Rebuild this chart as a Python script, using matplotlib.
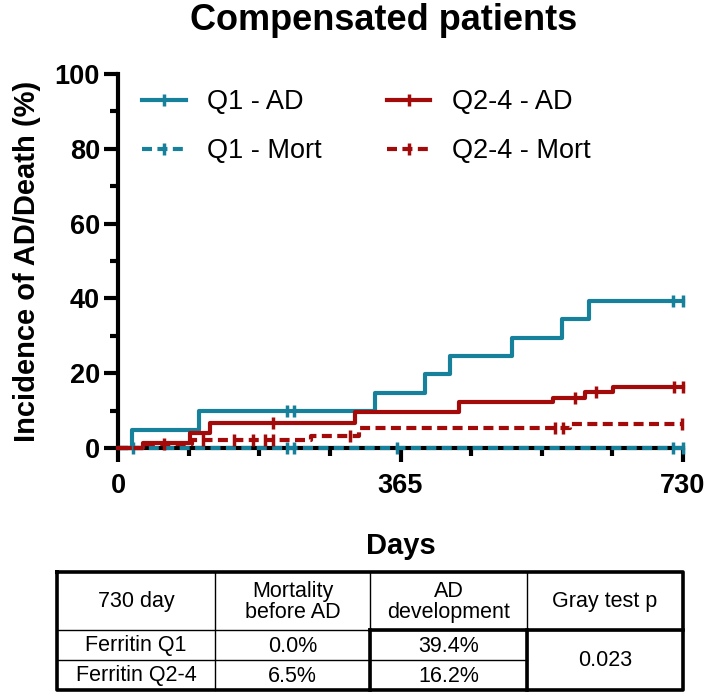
import numpy as np
import matplotlib
matplotlib.use("Agg")
import matplotlib.pyplot as plt
from matplotlib.lines import Line2D

plt.rcParams['font.family'] = ['Liberation Sans', 'DejaVu Sans']

# ---------------- data ----------------
q1_ad_days = [0, 18, 105, 332, 397, 429, 509, 574, 609, 730]
q1_ad_inc = [0.0, 4.9, 9.8, 14.7, 19.7, 24.6, 29.5, 34.4, 39.4, 39.4]
q1_ad_cens = [218, 227, 717, 730]

q24_ad_days = [0, 32, 93, 119, 306, 440, 562, 603, 640, 730]
q24_ad_inc = [0.0, 1.4, 4.1, 6.8, 9.5, 12.2, 13.5, 14.9, 16.2, 16.2]
q24_ad_cens = [200, 590, 618, 718, 730]

q1_mort_days = [0, 730]
q1_mort_inc = [0.0, 0.0]
q1_mort_cens = [20, 218, 227, 360, 717, 730]

q24_mort_days = [0, 38, 95, 250, 312, 584, 730]
q24_mort_inc = [0.0, 1.1, 2.2, 3.3, 5.4, 6.5, 6.5]
q24_mort_cens = [60, 110, 150, 175, 190, 200, 300, 565, 575, 729]

x_major = [0, 365, 730]
y_major = [0, 20, 40, 60, 80, 100]

table_header = ["730 day", "Mortality\nbefore AD", "AD\ndevelopment", "Gray test p"]
table_rows = ["Ferritin Q1", "Ferritin Q2-4"]
table_mort = ["0.0%", "6.5%"]
table_ad = ["39.4%", "16.2%"]
table_p = "0.023"

TEAL = "#17809a"
RED = "#a30b0b"

fig = plt.figure(figsize=(7.12, 6.92), dpi=100)
ax = fig.add_axes([118/712, (692-448)/692, 565/712, 374/692])

series = [
    (q1_ad_days, q1_ad_inc, q1_ad_cens, TEAL, '-', "Q1 - AD"),
    (q24_ad_days, q24_ad_inc, q24_ad_cens, RED, '-', "Q2-4 - AD"),
    (q1_mort_days, q1_mort_inc, q1_mort_cens, TEAL, (0, (2.4, 1.3)), "Q1 - Mort"),
    (q24_mort_days, q24_mort_inc, q24_mort_cens, RED, (0, (2.4, 1.3)), "Q2-4 - Mort"),
]
for days, inc, cens, col, ls, lab in series:
    d = np.asarray(days, float)
    v = np.asarray(inc, float)
    ax.step(d, v, where='post', color=col, lw=3, ls=ls, clip_on=False, zorder=3)
    c = np.asarray(cens, float)
    idx = np.searchsorted(d, c, side='right') - 1
    ax.plot(c, v[idx], ls='none', marker='|', ms=9, mew=2.5, color=col,
            clip_on=False, zorder=3)

ax.set_xlim(0, 730)
ax.set_ylim(0, 100)
ax.set_xticks(x_major)
ax.set_xticks(np.arange(0, 731, 91.25), minor=True)
ax.set_yticks(y_major)
ax.set_yticks(np.arange(10, 100, 20), minor=True)
for s in ['top', 'right']:
    ax.spines[s].set_visible(False)
for s in ['left', 'bottom']:
    ax.spines[s].set_linewidth(3)
ax.tick_params(which='major', length=10, width=3, direction='out', labelsize=19.5, pad=3)
ax.tick_params(which='minor', length=6, width=3, direction='out')
ax.tick_params(axis='x', which='major', pad=8)
for lbl in ax.get_xticklabels() + ax.get_yticklabels():
    lbl.set_fontweight('bold')

ax.set_xlabel("Days", fontsize=21, fontweight='bold', labelpad=24)
ax.set_ylabel("Incidence of AD/Death (%)", fontsize=21, fontweight='bold', labelpad=10)
fig.text(384/712, 1 - 21/692, "Compensated patients", ha='center', va='center',
         fontsize=26, fontweight='bold')

handles = []
labels = []
for days, inc, cens, col, ls, lab in [series[0], series[2], series[1], series[3]]:
    handles.append(Line2D([0], [0], color=col, lw=3, ls=ls, marker='|', ms=9, mew=2.5))
    labels.append(lab)
leg = ax.legend(handles, labels, ncol=2, loc='upper left', frameon=False,
                fontsize=19.5, bbox_to_anchor=(0.0, 1.024), handlelength=1.6,
                columnspacing=2.4, labelspacing=0.85, handletextpad=0.8, numpoints=1)

# ---------------- table ----------------
tx0, ty0, tw, th = 57, 572, 626, 118
tax = fig.add_axes([tx0/712, (692 - ty0 - th)/692, tw/712, th/692])
tax.set_xlim(0, tw)
tax.set_ylim(th, 0)
tax.axis('off')
cols = [0, 158, 313, 470, 626]
rows = [0, 58, 88, 118]
thin = 1.0
thick = 2.6
for cx in cols[1:-1]:
    tax.plot([cx, cx], [0, th], color='black', lw=thin, clip_on=False)
tax.plot([0, tw], [rows[1], rows[1]], color='black', lw=thin, clip_on=False)
tax.plot([0, cols[3]], [rows[2], rows[2]], color='black', lw=thin, clip_on=False)
tax.plot([0, tw, tw, 0, 0], [0, 0, th, th, 0], color='black', lw=thick, clip_on=False)
tax.plot([cols[2], cols[2]], [rows[1], th], color='black', lw=thick, clip_on=False)
tax.plot([cols[3], cols[3]], [rows[1], th], color='black', lw=thick, clip_on=False)
tax.plot([cols[2], tw], [rows[1], rows[1]], color='black', lw=thick, clip_on=False)

fs = 15.5
for i, h in enumerate(table_header):
    tax.text((cols[i] + cols[i+1]) / 2, rows[1] / 2 + 1, h, ha='center', va='center',
             fontsize=fs, linespacing=1.0)
for r in range(2):
    yc = (rows[r+1] + rows[r+2]) / 2 + 1
    tax.text((cols[0] + cols[1]) / 2, yc, table_rows[r], ha='center', va='center', fontsize=fs)
    tax.text((cols[1] + cols[2]) / 2, yc, table_mort[r], ha='center', va='center', fontsize=fs)
    tax.text((cols[2] + cols[3]) / 2, yc, table_ad[r], ha='center', va='center', fontsize=fs)
tax.text((cols[3] + cols[4]) / 2, (rows[1] + rows[3]) / 2 + 1, table_p, ha='center',
         va='center', fontsize=fs)

fig.savefig("out.png", dpi=100)
